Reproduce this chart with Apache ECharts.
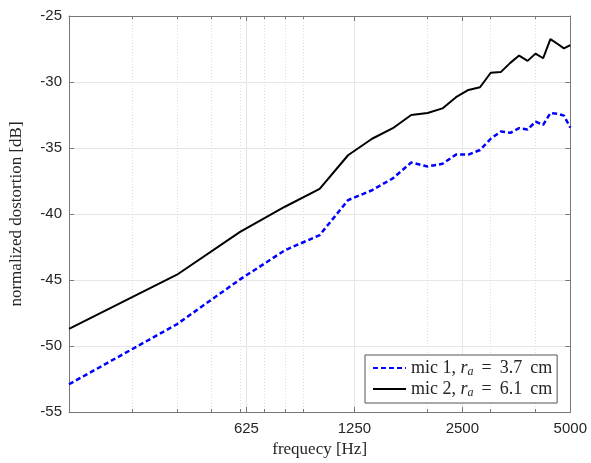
<!DOCTYPE html>
<html>
<head>
<meta charset="utf-8">
<script src="https://cdn.jsdelivr.net/npm/echarts@6/dist/echarts.min.js"></script>
<style>
  html, body { margin: 0; padding: 0; background: #fff; }
  #chart { width: 591px; height: 463px; }
</style>
</head>
<body>
<div id="chart"></div>
<script>
// frequency samples [Hz]
const freqs = [200, 400, 600, 800, 1000, 1200, 1400, 1600, 1800, 2000, 2200, 2400, 2600,
               2800, 3000, 3200, 3400, 3600, 3800, 4000, 4200, 4400, 4600, 4800, 5000];

// normalized distortion [dB]
const mic1 = [-52.9, -48.35, -44.95, -42.75, -41.6, -38.95, -38.2, -37.3, -36.1, -36.4, -36.2, -35.5, -35.5,
              -35.15, -34.3, -33.75, -33.85, -33.5, -33.6, -33.0, -33.25, -32.35, -32.4, -32.55, -33.45];
const mic2 = [-48.7, -44.6, -41.35, -39.45, -38.1, -35.55, -34.3, -33.5, -32.5, -32.35, -32.0, -31.15, -30.6,
              -30.4, -29.3, -29.25, -28.55, -28.0, -28.4, -27.85, -28.2, -26.75, -27.1, -27.45, -27.2];

const xTicks = [625, 1250, 2500, 5000];
const xMinorTicks = [300, 400, 500, 600, 700, 800, 900, 2000, 3000, 4000];

const names = ['mic 1, r_a = 3.7 cm', 'mic 2, r_a = 6.1 cm'];

const axisColor = '#777';
const textColor = '#262626';
const sans = 'Liberation Sans';
const serif = 'Liberation Serif';

const chart = echarts.init(document.getElementById('chart'));

function pairs(ys) {
    return freqs.map((f, i) => [f, ys[i]]);
}

// shared settings for the log frequency axes
function freqAxis(extra) {
    return Object.assign({
        type: 'log',
        logBase: 2,
        min: 200,
        max: 5000,
        gridIndex: 0,
        axisLine: { show: false },
        axisLabel: { show: false },
        splitLine: { show: false }
    }, extra);
}

const option = {
    animation: false,
    textStyle: { fontFamily: sans },
    grid: { left: 65.5, right: 20.7, top: 16, bottom: 48 },
    xAxis: [
        freqAxis({
            position: 'bottom',
            name: 'frequecy [Hz]',
            nameLocation: 'middle',
            nameGap: 29,
            nameTextStyle: { fontFamily: serif, fontSize: 17, color: textColor },
            axisLine: { show: true, onZero: false, lineStyle: { color: axisColor, width: 1 } },
            axisTick: { inside: true, length: 5, customValues: xTicks, lineStyle: { color: axisColor } },
            axisLabel: {
                show: true, customValues: xTicks, margin: 9,
                fontFamily: sans, fontSize: 15, color: textColor,
                formatter: v => String(Math.round(v))
            },
            splitLine: { show: true, lineStyle: { color: '#e6e6e6', width: 1 } }
        }),
        freqAxis({
            position: 'top',
            axisLine: { show: true, onZero: false, lineStyle: { color: axisColor, width: 1 } },
            axisTick: { inside: true, length: 5, customValues: xTicks, lineStyle: { color: axisColor } }
        }),
        freqAxis({
            position: 'bottom',
            axisTick: { inside: true, length: 3, customValues: xMinorTicks, lineStyle: { color: axisColor } },
            splitLine: { show: true, lineStyle: { color: '#dcdcdc', width: 1, type: [1, 2] } }
        }),
        freqAxis({
            position: 'top',
            axisTick: { inside: true, length: 3, customValues: xMinorTicks, lineStyle: { color: axisColor } }
        })
    ],
    yAxis: [
        {
            type: 'value',
            min: -55,
            max: -25,
            interval: 5,
            position: 'left',
            name: 'normalized dostortion [dB]',
            nameLocation: 'middle',
            nameGap: 44,
            nameTextStyle: { fontFamily: serif, fontSize: 17, color: textColor },
            axisLine: { show: true, onZero: false, lineStyle: { color: axisColor, width: 1 } },
            axisTick: { inside: true, length: 5, lineStyle: { color: axisColor } },
            axisLabel: { margin: 7, fontFamily: sans, fontSize: 15, color: textColor },
            splitLine: { show: true, lineStyle: { color: '#e6e6e6', width: 1 } }
        },
        {
            type: 'value',
            min: -55,
            max: -25,
            interval: 5,
            position: 'right',
            axisLine: { show: true, onZero: false, lineStyle: { color: axisColor, width: 1 } },
            axisTick: { inside: true, length: 5, lineStyle: { color: axisColor } },
            axisLabel: { show: false },
            splitLine: { show: false }
        }
    ],
    legend: {
        left: 365,
        top: 355,
        orient: 'vertical',
        itemWidth: 33,
        itemHeight: 14,
        itemGap: 2,
        padding: [4, 5, 4, 7],
        borderColor: '#555',
        borderWidth: 1,
        backgroundColor: '#fff',
        data: names,
        itemStyle: { opacity: 0 },
        formatter: function (name) {
            const parts = name.split('r_a');
            const rest = parts[1].replace(' = ', '').replace(' cm', '');
            return '{t|' + parts[0] + '}{i|r}{s|a}{e|=}{t|' + rest + '}{u|cm}';
        },
        textStyle: {
            color: textColor,
            rich: {
                t: { fontFamily: serif, fontSize: 18, color: textColor },
                u: { fontFamily: serif, fontSize: 18, color: textColor, padding: [0, 0, 0, 8] },
                i: { fontFamily: serif, fontSize: 18, fontStyle: 'italic', color: textColor },
                e: { fontFamily: serif, fontSize: 18, color: textColor, padding: [0, 8, 0, 8] },
                s: { fontFamily: serif, fontSize: 12, fontStyle: 'italic', color: textColor,
                     verticalAlign: 'bottom', padding: [8, 0, 0, 0] }
            }
        }
    },
    series: [
        {
            name: names[0],
            type: 'line',
            xAxisIndex: 0,
            yAxisIndex: 0,
            data: pairs(mic1),
            symbol: 'none',
            lineStyle: { color: '#0000ff', width: 2.5, type: [5, 3] },
            itemStyle: { color: '#0000ff' },
            z: 3
        },
        {
            name: names[1],
            type: 'line',
            xAxisIndex: 0,
            yAxisIndex: 0,
            data: pairs(mic2),
            symbol: 'none',
            lineStyle: { color: '#000', width: 2 },
            itemStyle: { color: '#000' },
            z: 3
        }
    ]
};

chart.setOption(option);
</script>
</body>
</html>
